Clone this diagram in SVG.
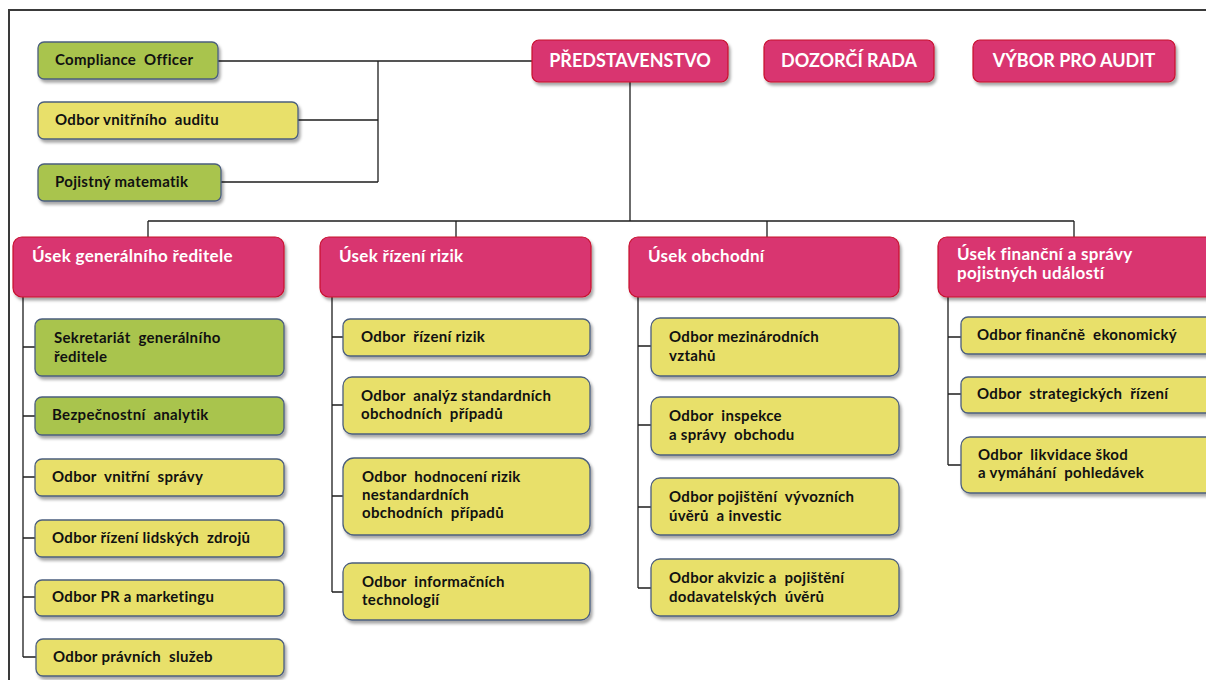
<svg xmlns="http://www.w3.org/2000/svg" width="1206" height="680" viewBox="0 0 1206 680">
<defs>
<filter id="sh" x="-10%" y="-20%" width="130%" height="160%">
<feDropShadow dx="2" dy="3" stdDeviation="1.8" flood-color="#000" flood-opacity="0.35"/>
</filter>
</defs>
<style>
.frame{fill:none;stroke:#3a3a3a;stroke-width:2}
.pink{fill:#d9356f;stroke:#c8102e;stroke-width:1.2;filter:url(#sh)}
.yel{fill:#e8e06a;stroke:#4b5e7e;stroke-width:1.3;filter:url(#sh)}
.grn{fill:#a9c44e;stroke:#4b5e7e;stroke-width:1.3;filter:url(#sh)}
.conn{fill:none;stroke:#1e1e1e;stroke-width:1.3}
.t{font-family:Lato,"Open Sans","Noto Sans",sans-serif;font-weight:bold;font-size:15px;letter-spacing:0.3px;fill:#111;white-space:pre}
.h{font-family:Lato,"Open Sans","Noto Sans",sans-serif;font-weight:bold;font-size:17px;letter-spacing:0.3px;fill:#fff;white-space:pre}
.top{font-family:Lato,"Open Sans","Noto Sans",sans-serif;font-weight:bold;font-size:18px;fill:#fff;text-anchor:middle}
</style>
<rect class="frame" x="9" y="10" width="1220" height="690"/>
<g id="connectors">
<path class="conn" d="M218,61 H532 M298,120 H378 M221,182 H378 M378,61 V182"/>
<path class="conn" d="M630,82 V221 M148,221 H1074 M148,221 V237 M456,221 V237 M767,221 V237 M1074,221 V237"/>
<path class="conn" d="M23,297 V657 M23,347 H35 M23,416 H35 M23,477 H35 M23,538 H35 M23,597 H35 M23,657 H36"/>
<path class="conn" d="M332,297 V592 M332,337 H343 M332,405 H343 M332,496 H343 M332,592 H343"/>
<path class="conn" d="M638,297 V588 M638,346 H651 M638,425 H651 M638,507 H651 M638,588 H651"/>
<path class="conn" d="M948,297 V465 M948,337 H961 M948,394 H961 M948,465 H961"/>
</g>
<g id="compliance"><rect class="grn" x="38" y="42" width="180" height="37" rx="6"/><text class="t" x="55" y="65">Compliance  Officer</text></g>
<g id="audit_odbor"><rect class="yel" x="38" y="102" width="260" height="37" rx="6"/><text class="t" x="55" y="125">Odbor vnitřního  auditu</text></g>
<g id="pojistny"><rect class="grn" x="38" y="164" width="183" height="37" rx="6"/><text class="t" x="55" y="187">Pojistný matematik</text></g>
<g id="predstavenstvo"><rect class="pink" x="532" y="40" width="196" height="42" rx="7"/><text class="top" x="630" y="67">PŘEDSTAVENSTVO</text></g>
<g id="dozorci"><rect class="pink" x="764" y="40" width="170" height="42" rx="7"/><text class="top" x="849" y="67">DOZORČÍ RADA</text></g>
<g id="vybor"><rect class="pink" x="973" y="40" width="202" height="42" rx="7"/><text class="top" x="1074" y="67">VÝBOR PRO AUDIT</text></g>
<g id="usek_gen"><rect class="pink" x="13" y="237" width="271" height="60" rx="9"/><text class="h" x="32" y="262">Úsek generálního ředitele</text></g>
<g id="usek_rizik"><rect class="pink" x="320" y="237" width="271" height="60" rx="9"/><text class="h" x="339" y="262">Úsek řízení rizik</text></g>
<g id="usek_obchod"><rect class="pink" x="629" y="237" width="270" height="60" rx="9"/><text class="h" x="648" y="262">Úsek obchodní</text></g>
<g id="usek_fin"><rect class="pink" x="938" y="237" width="280" height="60" rx="9"/><text class="h" x="957" y="260">Úsek finanční a správy</text><text class="h" x="957" y="279">pojistných událostí</text></g>
<g id="sekretariat"><rect class="grn" x="35" y="319" width="249" height="57" rx="7"/><text class="t" x="54" y="343">Sekretariát  generálního</text><text class="t" x="54" y="362">ředitele</text></g>
<g id="bezpecnost"><rect class="grn" x="35" y="397" width="249" height="38" rx="7"/><text class="t" x="52" y="420">Bezpečnostní  analytik</text></g>
<g id="vnitrni_sprava"><rect class="yel" x="35" y="459" width="249" height="37" rx="7"/><text class="t" x="52" y="482">Odbor  vnitřní  správy</text></g>
<g id="lidske_zdroje"><rect class="yel" x="35" y="520" width="249" height="37" rx="7"/><text class="t" x="52" y="543">Odbor řízení lidských  zdrojů</text></g>
<g id="pr"><rect class="yel" x="35" y="580" width="249" height="36" rx="7"/><text class="t" x="52" y="602">Odbor PR a marketingu</text></g>
<g id="pravni"><rect class="yel" x="36" y="639" width="248" height="37" rx="7"/><text class="t" x="53" y="662">Odbor právních  služeb</text></g>
<g id="rizeni_rizik"><rect class="yel" x="343" y="319" width="247" height="37" rx="7"/><text class="t" x="361" y="342">Odbor  řízení rizik</text></g>
<g id="analyz"><rect class="yel" x="343" y="377" width="247" height="57" rx="9"/><text class="t" x="361" y="401">Odbor  analýz standardních</text><text class="t" x="361" y="419">obchodních  případů</text></g>
<g id="hodnoceni"><rect class="yel" x="343" y="458" width="247" height="77" rx="11"/><text class="t" x="362" y="482">Odbor  hodnocení rizik</text><text class="t" x="362" y="500">nestandardních</text><text class="t" x="362" y="518">obchodních  případů</text></g>
<g id="informacni"><rect class="yel" x="343" y="563" width="247" height="57" rx="9"/><text class="t" x="362" y="587">Odbor  informačních</text><text class="t" x="362" y="605">technologií</text></g>
<g id="mezinarodni"><rect class="yel" x="651" y="318" width="248" height="58" rx="9"/><text class="t" x="669" y="342">Odbor mezinárodních</text><text class="t" x="669" y="361">vztahů</text></g>
<g id="inspekce"><rect class="yel" x="651" y="397" width="248" height="58" rx="9"/><text class="t" x="669" y="421">Odbor  inspekce</text><text class="t" x="669" y="440">a správy  obchodu</text></g>
<g id="vyvozni"><rect class="yel" x="651" y="478" width="248" height="57" rx="9"/><text class="t" x="669" y="502">Odbor pojištění  vývozních</text><text class="t" x="669" y="521">úvěrů  a investic</text></g>
<g id="akvizic"><rect class="yel" x="651" y="559" width="248" height="57" rx="9"/><text class="t" x="669" y="583">Odbor akvizic a  pojištění</text><text class="t" x="669" y="602">dodavatelských  úvěrů</text></g>
<g id="financne"><rect class="yel" x="961" y="317" width="260" height="37" rx="7"/><text class="t" x="977" y="340">Odbor finančně  ekonomický</text></g>
<g id="strategicke"><rect class="yel" x="961" y="377" width="260" height="36" rx="7"/><text class="t" x="977" y="399">Odbor  strategických  řízení</text></g>
<g id="likvidace"><rect class="yel" x="961" y="437" width="260" height="56" rx="9"/><text class="t" x="978" y="460">Odbor  likvidace škod</text><text class="t" x="978" y="478">a vymáhání  pohledávek</text></g>
</svg>
